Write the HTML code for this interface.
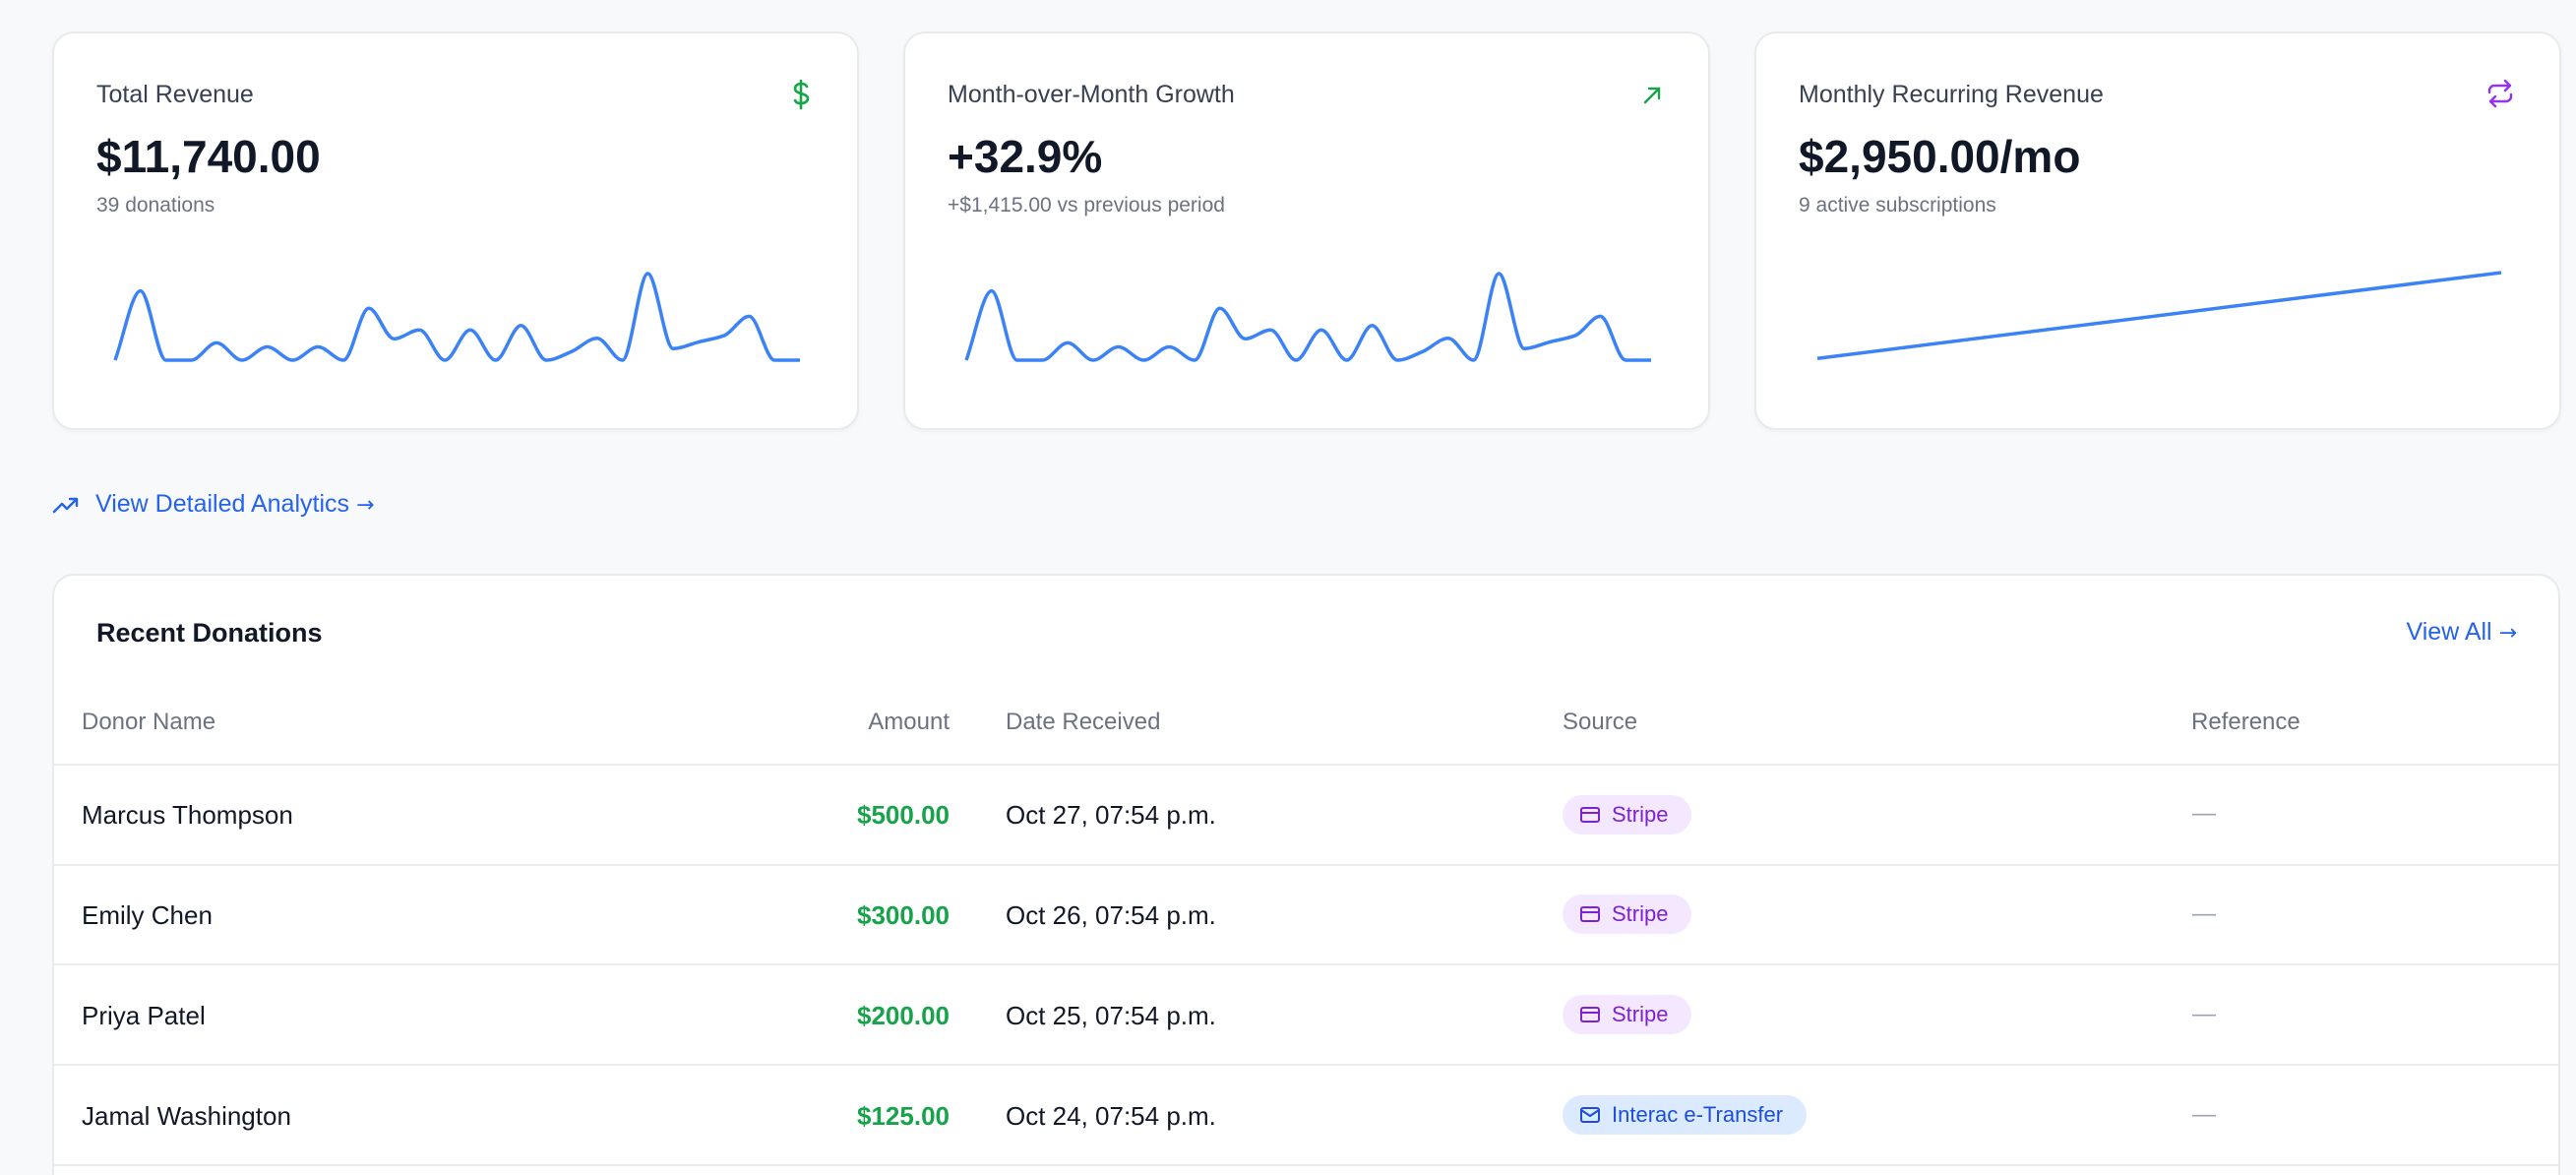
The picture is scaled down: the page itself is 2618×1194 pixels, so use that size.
<!DOCTYPE html>
<html style="width:2618px;height:1194px;overflow:hidden"><head><meta charset="utf-8">
<style>
*{box-sizing:border-box;margin:0;padding:0}
body{width:2618px;height:1194px;overflow:hidden;background:#f8f9fb;font-family:"Liberation Sans",sans-serif;position:relative}
.card{position:absolute;top:32px;width:820px;height:405px;background:#fff;border:2px solid #e8eaee;border-radius:22px;box-shadow:0 2px 4px rgba(0,0,0,0.04)}
.ct{position:absolute;left:43px;top:48px;font-size:25px;color:#374151}
.cv{position:absolute;left:43px;top:98px;font-size:46px;font-weight:bold;color:#111827}
.cs{position:absolute;left:43px;top:163px;font-size:21px;color:#6b7280}
.ic{position:absolute;right:46px;top:46px}
svg.sp{position:absolute;left:0;top:0}
.tbl{position:absolute;left:53px;top:583px;width:2549px;height:611px;background:#fff;border:2px solid #e8eaee;border-bottom:none;border-radius:22px 22px 0 0}
.th{position:absolute;top:720px;font-size:24px;color:#6b7280}
.line{position:absolute;left:55px;width:2545px;height:2px;background:#ececee}
.cell{position:absolute;font-size:26px;color:#111827}
.amt{position:absolute;font-size:26px;font-weight:bold;color:#16a34a;text-align:right;right:1653px}
.pill{position:absolute;left:1588px;height:40px;border-radius:20px;font-size:22px;display:flex;align-items:center;padding:0 24px 0 18px;gap:12px}
.stripe{background:#f3e8ff;color:#7e22ce}
.interac{background:#dbeafe;color:#1d4ed8}
.dash{position:absolute;left:2228px;font-size:24px;color:#9ca3af}
.arr{font-family:"DejaVu Sans",sans-serif;font-size:22px}
</style></head><body>

<div class="card" style="left:53px">
 <div class="ct">Total Revenue</div>
 <div class="cv">$11,740.00</div>
 <div class="cs">39 donations</div>
 <svg class="ic" width="22" height="32" viewBox="0 0 22 32"><path d="M11 2v28M17 8c-1-2-3-3-6-3s-6 2-6 5 3 4 6 5 7 2 7 5-3 5-7 5-5-1-6-3" fill="none" stroke="#16a34a" stroke-width="2.6" stroke-linecap="round"/></svg>
 <svg class="sp" id="sp1" width="820" height="405"></svg>
</div>

<div class="card" style="left:918px">
 <div class="ct">Month-over-Month Growth</div>
 <div class="cv">+32.9%</div>
 <div class="cs">+$1,415.00 vs previous period</div>
 <svg class="ic" width="22" height="22" viewBox="0 0 22 22" style="top:52px"><path d="M4 18L18 4M8 4h10v10" fill="none" stroke="#16a34a" stroke-width="2.4" stroke-linecap="round"/></svg>
 <svg class="sp" id="sp2" width="820" height="405"></svg>
</div>

<div class="card" style="left:1783px">
 <div class="ct">Monthly Recurring Revenue</div>
 <div class="cv">$2,950.00/mo</div>
 <div class="cs">9 active subscriptions</div>
 <svg class="ic" width="28" height="30" viewBox="0 0 28 30"><path d="M19 2l5 5-5 5M24 7H8a5 5 0 0 0-5 5v2M9 28l-5-5 5-5M4 23h16a5 5 0 0 0 5-5v-2" fill="none" stroke="#9333ea" stroke-width="2.4" stroke-linecap="round" stroke-linejoin="round"/></svg>
 <svg class="sp" id="sp3" width="820" height="405"></svg>
</div>

<div style="position:absolute;left:53px;top:498px;display:flex;align-items:center;gap:16px;color:#2563eb;font-size:25px">
 <svg width="28" height="20" viewBox="0 0 28 20"><path d="M2 17l8-8 5 5 10-10M18 4h7v7" fill="none" stroke="#2563eb" stroke-width="2.4" stroke-linecap="round" stroke-linejoin="round"/></svg>
 <span>View Detailed Analytics <span class="arr">→</span></span>
</div>

<div class="tbl"></div>
<div style="position:absolute;left:98px;top:628px;font-size:27px;font-weight:bold;color:#111827">Recent Donations</div>
<div style="position:absolute;right:60px;top:628px;font-size:25px;color:#2563eb">View All <span class="arr">→</span></div>

<div class="th" style="left:83px">Donor Name</div>
<div class="th" style="right:1653px">Amount</div>
<div class="th" style="left:1022px">Date Received</div>
<div class="th" style="left:1588px">Source</div>
<div class="th" style="left:2227px">Reference</div>
<div class="line" style="top:776px"></div>

<div>
<div class="cell" style="left:83px;top:813px">Marcus Thompson</div>
<div class="amt" style="top:813px">$500.00</div>
<div class="cell" style="left:1022px;top:813px">Oct 27, 07:54 p.m.</div>
<div class="pill stripe" style="top:808px"><svg width="20" height="16" viewBox="0 0 20 16"><rect x="1" y="1" width="18" height="14" rx="2" fill="none" stroke="#7e22ce" stroke-width="2"/><path d="M1 6h18" stroke="#7e22ce" stroke-width="2"/></svg>Stripe</div>
<div class="dash" style="top:813px">—</div>
</div>
<div class="line" style="top:878px"></div>

<div>
<div class="cell" style="left:83px;top:915px">Emily Chen</div>
<div class="amt" style="top:915px">$300.00</div>
<div class="cell" style="left:1022px;top:915px">Oct 26, 07:54 p.m.</div>
<div class="pill stripe" style="top:909px"><svg width="20" height="16" viewBox="0 0 20 16"><rect x="1" y="1" width="18" height="14" rx="2" fill="none" stroke="#7e22ce" stroke-width="2"/><path d="M1 6h18" stroke="#7e22ce" stroke-width="2"/></svg>Stripe</div>
<div class="dash" style="top:915px">—</div>
</div>
<div class="line" style="top:979px"></div>

<div>
<div class="cell" style="left:83px;top:1017px">Priya Patel</div>
<div class="amt" style="top:1017px">$200.00</div>
<div class="cell" style="left:1022px;top:1017px">Oct 25, 07:54 p.m.</div>
<div class="pill stripe" style="top:1011px"><svg width="20" height="16" viewBox="0 0 20 16"><rect x="1" y="1" width="18" height="14" rx="2" fill="none" stroke="#7e22ce" stroke-width="2"/><path d="M1 6h18" stroke="#7e22ce" stroke-width="2"/></svg>Stripe</div>
<div class="dash" style="top:1017px">—</div>
</div>
<div class="line" style="top:1081px"></div>

<div>
<div class="cell" style="left:83px;top:1119px">Jamal Washington</div>
<div class="amt" style="top:1119px">$125.00</div>
<div class="cell" style="left:1022px;top:1119px">Oct 24, 07:54 p.m.</div>
<div class="pill interac" style="top:1113px"><svg width="20" height="16" viewBox="0 0 20 16"><rect x="1" y="1" width="18" height="14" rx="2" fill="none" stroke="#1d4ed8" stroke-width="2"/><path d="M1 3l9 6 9-6" fill="none" stroke="#1d4ed8" stroke-width="2"/></svg>Interac e-Transfer</div>
<div class="dash" style="top:1119px">—</div>
</div>
<div class="line" style="top:1183px"></div>

<script>
const dailyRevenue = [0,1200,0,0,300,0,230,0,230,0,900,370,525,0,525,0,600,0,150,380,0,1500,200,315,425,760,0,0];
const mrrValues = [2050,2950];

function xScale(i,n){return 62+i*(696/(n-1));}
function yScale(v,max){return 332-v*(88/max);}
function monotone(pts){
  const n=pts.length,d=[],m=[];
  for(let i=0;i<n-1;i++)d.push((pts[i+1][1]-pts[i][1])/(pts[i+1][0]-pts[i][0]));
  for(let i=0;i<n;i++){
    if(i===0)m.push(d[0]);else if(i===n-1)m.push(d[n-2]);
    else m.push(d[i-1]*d[i]<=0?0:(2*d[i-1]*d[i])/(d[i-1]+d[i]));
  }
  let s='M'+pts[0][0]+','+pts[0][1];
  for(let i=0;i<n-1;i++){
    const h=(pts[i+1][0]-pts[i][0])/3;
    s+=' C'+(pts[i][0]+h)+','+(pts[i][1]+m[i]*h)+' '+(pts[i+1][0]-h)+','+(pts[i+1][1]-m[i+1]*h)+' '+pts[i+1][0]+','+pts[i+1][1];
  }
  return s;
}
const maxRev=Math.max(...dailyRevenue);
const pts=dailyRevenue.map((v,i)=>[xScale(i,dailyRevenue.length),yScale(v,maxRev)]);
['sp1','sp2'].forEach(id=>{
  const p=document.createElementNS('http://www.w3.org/2000/svg','path');
  p.setAttribute('d',monotone(pts));
  p.setAttribute('fill','none');p.setAttribute('stroke','#3b82f6');p.setAttribute('stroke-width','3.5');
  
  
  document.getElementById(id).appendChild(p);
});
function mrrY(v){return 529-v*(286/2950);}
const mp=mrrValues.map((v,i)=>[62+i*(695/(mrrValues.length-1)),mrrY(v)]);
const l=document.createElementNS('http://www.w3.org/2000/svg','path');
l.setAttribute('d','M'+mp.map(p=>p.join(',')).join(' L'));
l.setAttribute('fill','none');l.setAttribute('stroke','#3b82f6');l.setAttribute('stroke-width','3.5');


document.getElementById('sp3').appendChild(l);
</script>
</body></html>
